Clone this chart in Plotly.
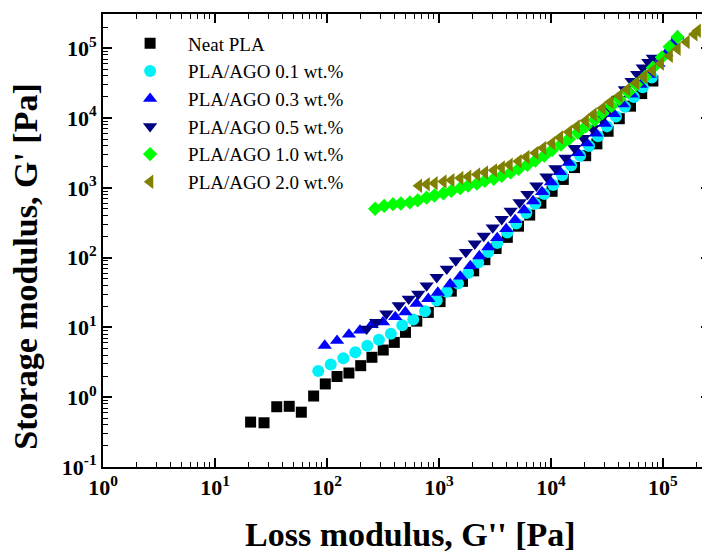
import plotly.graph_objects as go

# ---------------- data (G'' [Pa], G' [Pa]) ----------------
neat_x = [20.8, 27.4, 35.6, 46, 59, 76, 96.6, 123, 157, 200, 252, 318, 399, 502, 634, 803,
          1023, 1288, 1622, 2042, 2570, 3236, 4074, 5129, 6457, 8128, 10230, 12880, 16220,
          20420, 25700, 32360, 40740, 51290, 64570, 81280]
neat_y = [0.44, 0.43, 0.73, 0.74, 0.61, 1.04, 1.55, 1.98, 2.22, 2.83, 3.73, 4.74, 6.1, 8.5, 12.3, 16.4,
          23.4, 33.1, 45.7, 64.6, 93.3, 135, 195, 282, 407, 603, 891, 1318, 1950,
          2884, 4266, 6457, 9772, 14790, 22390, 33880]

ago01_x = [83.6, 108, 140, 179, 229, 291, 372, 470, 589, 750, 955, 1175, 1479, 1820, 2239, 2754,
           3311, 4074, 4898, 6026, 7244, 8710, 10470, 12590, 15140, 18200, 21880, 26300, 31620,
           38020, 45710, 54950, 66070, 79430]
ago01_y = [2.38, 2.93, 3.61, 4.40, 5.47, 6.67, 8.13, 10.7, 13.0, 17.1, 24.3, 32.4, 42.7, 60.3, 85.1, 120,
           162, 229, 309, 437, 589, 813, 1096, 1514, 2089, 2884, 3981, 5495, 7586,
           10470, 14450, 19950, 27540, 38020]

ago03_x = [95.5, 123, 157, 197, 251, 316, 407, 501, 631, 803, 977, 1259, 1549, 1905, 2291, 2754,
           3311, 3981, 4786, 5754, 6918, 8318, 10000, 12020, 14450, 17380, 20890, 25120, 30200,
           36310, 43650, 52480, 63100, 75860, 91200, 107200, 123000, 134900]
ago03_y = [5.50, 6.46, 7.94, 9.06, 10.9, 11.9, 14.1, 16.6, 21.9, 25.7, 31.6, 41.7, 53.7, 75.9, 105, 141,
           191, 257, 347, 479, 646, 871, 1202, 1698, 2291, 3162, 4365, 6026, 8318,
           11480, 15850, 21880, 30200, 41690, 60260, 85110, 117500, 147900]

ago05_x = [226, 275, 339, 437, 537, 653, 776, 955, 1175, 1413, 1738, 2089, 2512, 3020, 3631, 4365,
           5248, 6166, 7413, 9120, 10960, 13490, 16220, 19500, 23440, 28180, 33880, 39810, 45710,
           52480, 58880, 66070, 74130, 81280]
ago05_y = [9.55, 11.9, 15.7, 20.6, 25.7, 30.2, 39.8, 52.5, 69.2, 91.2, 120, 158, 204, 269, 355, 468,
           617, 813, 1072, 1445, 1905, 2692, 3715, 5129, 7079, 9772, 13490, 18620, 25700,
           33880, 42660, 52480, 63100, 72440]

ago10_x = [269, 324, 389, 457, 550, 646, 776, 912, 1096, 1288, 1549, 1820, 2188, 2570, 3090, 3631,
           4365, 5129, 6166, 7244, 8710, 10230, 12300, 14450, 17380, 20420, 24550, 28840, 34670,
           40740, 48980, 57540, 69180, 81280, 97720, 114800, 134900]
ago10_y = [501, 550, 582, 596, 617, 661, 724, 776, 832, 902, 989, 1072, 1148, 1259, 1349, 1479,
           1660, 1862, 2138, 2455, 2884, 3467, 4169, 5012, 6166, 7586, 9333, 11750, 14790,
           18620, 23440, 30200, 38900, 52480, 74130, 104700, 144500]

ago20_x = [661, 776, 912, 1096, 1288, 1549, 1820, 2188, 2570, 3090, 3631, 4266, 5129, 6026, 7244,
           8511, 10230, 12020, 14450, 16980, 20420, 23990, 28840, 33880, 40740, 47860, 57540,
           67610, 81280, 95500, 114800, 134900, 162200, 190500, 204200]
ago20_y = [1072, 1122, 1161, 1230, 1288, 1380, 1445, 1549, 1660, 1778, 1950, 2138, 2399, 2754, 3162,
           3715, 4365, 5248, 6310, 7586, 9120, 11220, 13800, 16980, 20890, 25700, 31620,
           38900, 47860, 60260, 77620, 97720, 123000, 158500, 177800]

series = [
    ("Neat PLA", neat_x, neat_y, "square", "#000000", 11),
    ("PLA/AGO 0.1 wt.%", ago01_x, ago01_y, "circle", "#00F0F8", 12),
    ("PLA/AGO 0.3 wt.%", ago03_x, ago03_y, "triangle-up", "#0000FF", 12.5),
    ("PLA/AGO 0.5 wt.%", ago05_x, ago05_y, "triangle-down", "#000080", 12.5),
    ("PLA/AGO 1.0 wt.%", ago10_x, ago10_y, "diamond", "#00FF00", 11),
    ("PLA/AGO 2.0 wt.%", ago20_x, ago20_y, "triangle-left", "#808000", 12.5),
]

x_tickvals = [1, 10, 100, 1000, 10000, 100000]
x_ticktext = ["10<sup>0</sup>", "10<sup>1</sup>", "10<sup>2</sup>", "10<sup>3</sup>",
              "10<sup>4</sup>", "10<sup>5</sup>"]
y_tickvals = [0.1, 1, 10, 100, 1000, 10000, 100000]
y_ticktext = ["10<sup>-1</sup>", "10<sup>0</sup>", "10<sup>1</sup>", "10<sup>2</sup>",
              "10<sup>3</sup>", "10<sup>4</sup>", "10<sup>5</sup>"]
x_title = "Loss modulus, G'' [Pa]"
y_title = "Storage modulus, G' [Pa]"

FONT = "Liberation Serif"

fig = go.Figure()
for name, xs, ys, sym, col, sz in series:
    fig.add_trace(go.Scatter(
        x=xs, y=ys, mode="markers", name=name,
        marker=dict(symbol=sym, color=col, size=sz, line=dict(width=0)),
    ))

minor_x = [m * 10 ** e for e in range(0, 6) for m in range(2, 10)]
minor_y = [m * 10 ** e for e in range(-1, 6) for m in range(2, 10)]

axis_common = dict(
    type="log", showgrid=False, zeroline=False, automargin=False,
    showline=True, linecolor="black", linewidth=2, mirror="allticks",
    ticks="inside", ticklen=9, tickwidth=1.5, tickcolor="black",
    tickmode="array",
    tickfont=dict(family=FONT, size=22, color="black", weight="bold"),
)

fig.update_xaxes(
    **axis_common,
    range=[0, 5.42],
    tickvals=x_tickvals, ticktext=x_ticktext,
    minor=dict(tickmode="array", tickvals=minor_x, ticks="inside", ticklen=5,
               tickwidth=1.2, tickcolor="black", showgrid=False),
)
fig.update_yaxes(
    **axis_common,
    range=[-1, 5.49],
    tickvals=y_tickvals, ticktext=y_ticktext,
    minor=dict(tickmode="array", tickvals=minor_y, ticks="inside", ticklen=5,
               tickwidth=1.2, tickcolor="black", showgrid=False),
)

title_font = dict(family=FONT, size=34, color="black", weight="bold")
fig.add_annotation(text=x_title, xref="paper", yref="paper", x=0.506, y=-0.150,
                   xanchor="center", yanchor="middle", showarrow=False, font=title_font)
fig.add_annotation(text=y_title, xref="paper", yref="paper", x=-0.127, y=0.442,
                   xanchor="center", yanchor="middle", showarrow=False, textangle=-90,
                   font=title_font)

fig.update_layout(
    width=710, height=553,
    margin=dict(l=95, r=8, t=6, b=94),
    paper_bgcolor="white", plot_bgcolor="white",
    showlegend=True,
    legend=dict(x=0.015, y=0.977, xanchor="left", yanchor="top",
                bgcolor="rgba(0,0,0,0)", borderwidth=0,
                font=dict(family=FONT, size=19, color="black"),
                tracegroupgap=0, itemsizing="trace", itemwidth=66),
)

fig.write_html("out.html")
